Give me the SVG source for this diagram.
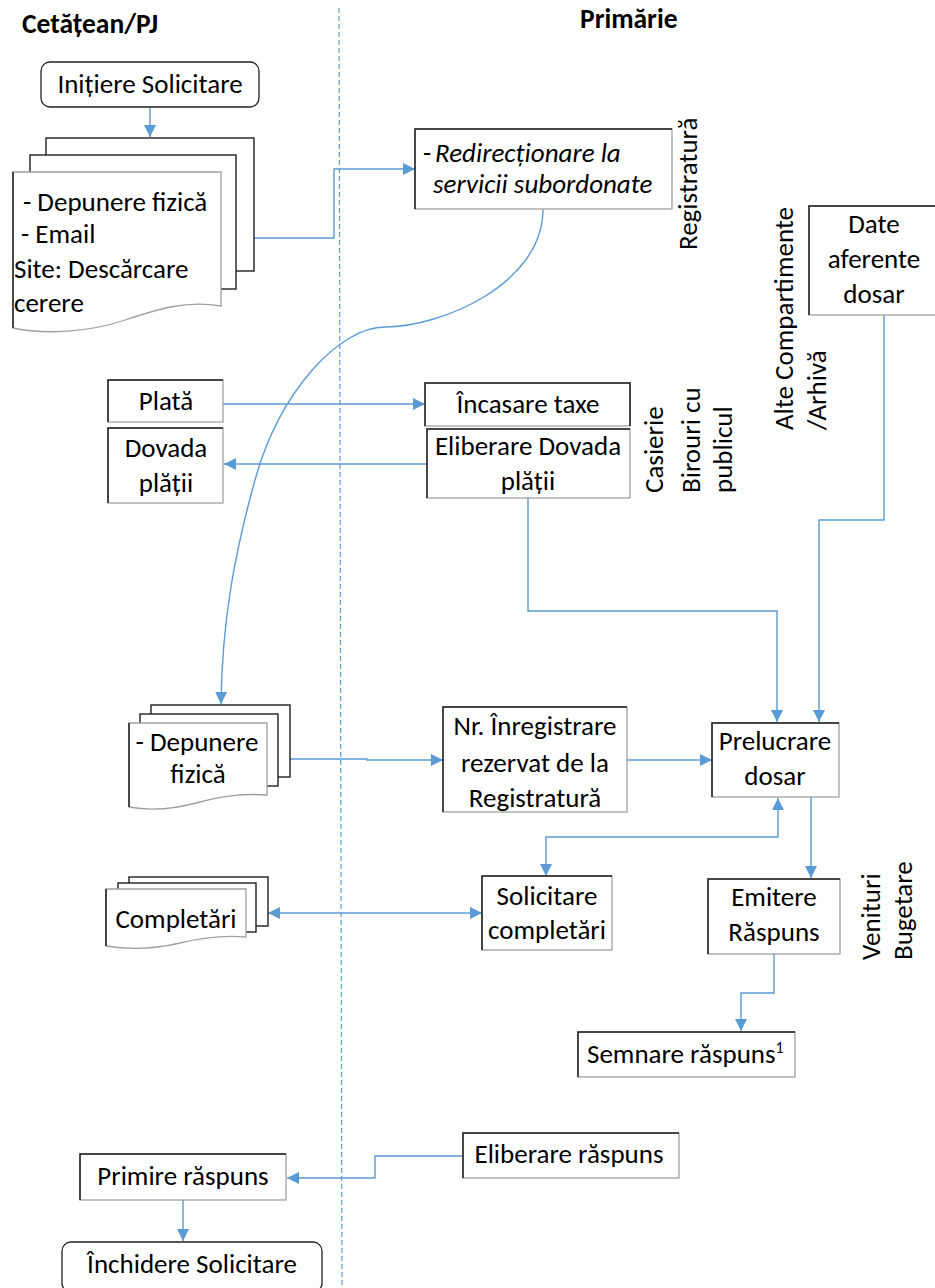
<svg xmlns="http://www.w3.org/2000/svg" width="935" height="1288" viewBox="0 0 935 1288">
<style>
text{font-family:Carlito,Lato,"Liberation Sans",sans-serif;font-size:27px;fill:#000}
.h{font-weight:bold;font-size:27.5px}
.c{text-anchor:middle}
.it{font-style:italic}
.bx{fill:#fff;stroke:#9a9a9a;stroke-width:1.2}
.tl{fill:none;stroke:#1e1e1e;stroke-width:1.5}
.rr{fill:#fff;stroke:#222;stroke-width:1.3}
.pg{fill:#fff;stroke:#1e1e1e;stroke-width:1.4}
.fp{fill:#fff;stroke:#a0a0a0;stroke-width:1.3}
.cn{fill:none;stroke:#5b9bd5;stroke-width:1.4}
.lane{fill:none;stroke:#5b9bd5;stroke-width:1.2;stroke-dasharray:5 3}
</style>
<defs>
<marker id="ah" viewBox="0 0 10 10" refX="10" refY="5" markerWidth="12" markerHeight="12" markerUnits="userSpaceOnUse" orient="auto-start-reverse">
<path d="M0,0 L10,5 L0,10 z" fill="#5b9bd5"/>
</marker>
</defs>
<rect width="935" height="1288" fill="#fff"/>
<g id="lanes">
<line class="lane" x1="339" y1="8" x2="342" y2="1288"/>
<text class="h" x="22" y="33">Cetățean/PJ</text>
<text class="h" x="580" y="28">Primărie</text>
<text transform="translate(697,250) rotate(-90)">Registratură</text>
<text transform="translate(663,493) rotate(-90)">Casierie</text>
<text transform="translate(700,493) rotate(-90)">Birouri cu</text>
<text transform="translate(732,493) rotate(-90)">publicul</text>
<text transform="translate(793,430) rotate(-90)">Alte Compartimente</text>
<text transform="translate(826,430) rotate(-90)">/Arhivă</text>
<text transform="translate(880,960) rotate(-90)">Venituri</text>
<text transform="translate(912,960) rotate(-90)">Bugetare</text>
</g>
<g id="connectors">
<path class="cn" d="M150,107 V137" marker-end="url(#ah)"/>
<path class="cn" d="M254,238 H334 V169 H415" marker-end="url(#ah)"/>
<path class="cn" d="M543,209 C543,285 440,327 385,327 C340,327 280,390 255,480 C235,552 222,620 221,704" marker-end="url(#ah)"/>
<path class="cn" d="M223,404 H425" marker-end="url(#ah)"/>
<path class="cn" d="M427,464 H224" marker-end="url(#ah)"/>
<path class="cn" d="M528,498 V611 H777 V722" marker-end="url(#ah)"/>
<path class="cn" d="M884,315 V520 H819 V722" marker-end="url(#ah)"/>
<path class="cn" d="M290,759 H367 V760 H443" marker-end="url(#ah)"/>
<path class="cn" d="M627,760 H712" marker-end="url(#ah)"/>
<path class="cn" d="M546,876 V837 H778 V798" marker-start="url(#ah)" marker-end="url(#ah)"/>
<path class="cn" d="M811,797 V878" marker-end="url(#ah)"/>
<path class="cn" d="M774,954 V993 H741 V1031" marker-end="url(#ah)"/>
<path class="cn" d="M268,913 H482" marker-start="url(#ah)" marker-end="url(#ah)"/>
<path class="cn" d="M463,1156 H375 V1178 H287" marker-end="url(#ah)"/>
<path class="cn" d="M183,1200 V1241" marker-end="url(#ah)"/>
</g>
<g id="n-initiere">
<rect class="rr" x="41" y="62" width="218" height="45" rx="9"/>
<text class="c" x="150" y="93">Inițiere Solicitare</text>
</g>
<g id="n-depunere1">
<rect class="pg" x="46" y="138" width="208" height="133"/>
<rect class="pg" x="30" y="155" width="206" height="134"/>
<path class="fp" d="M13,172 H221 V306 C185,300 155,310 125,320 C90,332 45,335 13,328 Z"/>
<path class="tl" d="M13,328 V172"/>
<text x="23" y="211">- Depunere fizică</text>
<text x="21" y="243">- Email</text>
<text x="14" y="278">Site: Descărcare</text>
<text x="14" y="312">cerere</text>
</g>
<g id="n-redirectionare">
<rect class="bx" x="415" y="129" width="257" height="80"/>
<path class="tl" d="M415,209 V129 H672"/>
<text x="423" y="162">-<tspan class="it" x="435">Redirecționare la</tspan></text>
<text class="it" x="433" y="193">servicii subordonate</text>
</g>
<g id="n-plata">
<rect class="bx" x="108" y="380" width="115" height="42"/>
<path class="tl" d="M108,422 V380 H223"/>
<text class="c" x="166" y="410">Plată</text>
</g>
<g id="n-dovada">
<rect class="bx" x="108" y="428" width="115" height="75"/>
<path class="tl" d="M108,503 V428 H223"/>
<text class="c" x="166" y="457">Dovada</text>
<text class="c" x="166" y="492">plății</text>
</g>
<g id="n-incasare">
<rect class="bx" x="425" y="383" width="205" height="43"/>
<path class="tl" d="M425,426 V383 H630 V426"/>
<text class="c" x="528" y="413">Încasare taxe</text>
</g>
<g id="n-eliberare-dovada">
<rect class="bx" x="427" y="429" width="203" height="69"/>
<path class="tl" d="M427,498 V429 H630"/>
<text class="c" x="528" y="455">Eliberare Dovada</text>
<text class="c" x="528" y="490">plății</text>
</g>
<g id="n-date">
<rect class="bx" x="809" y="206" width="131" height="109"/>
<path class="tl" d="M809,315 V206 H935"/>
<text class="c" x="874" y="233">Date</text>
<text class="c" x="874" y="268">aferente</text>
<text class="c" x="874" y="303">dosar</text>
</g>
<g id="n-depunere2">
<rect class="pg" x="151" y="705" width="139" height="72"/>
<rect class="pg" x="140" y="714" width="138" height="72"/>
<path class="fp" d="M129,723 H267 V795 C240,793 220,797 200,802 C175,809 150,811 129,807 Z"/>
<path class="tl" d="M129,807 V723"/>
<text class="c" x="197" y="751">- Depunere</text>
<text class="c" x="198" y="783">fizică</text>
</g>
<g id="n-nr">
<rect class="bx" x="443" y="707" width="184" height="105"/>
<path class="tl" d="M443,812 V707 H627"/>
<text class="c" x="535" y="735">Nr. Înregistrare</text>
<text class="c" x="535" y="772">rezervat de la</text>
<text class="c" x="535" y="807">Registratură</text>
</g>
<g id="n-prelucrare">
<rect class="bx" x="712" y="723" width="127" height="74"/>
<path class="tl" d="M712,797 V723 H839"/>
<text class="c" x="775" y="750">Prelucrare</text>
<text class="c" x="775" y="785">dosar</text>
</g>
<g id="n-completari">
<rect class="pg" x="129" y="877" width="139" height="49"/>
<rect class="pg" x="118" y="883" width="138" height="49"/>
<path class="fp" d="M106,889 H246 V937 C222,935 200,938 180,943 C155,949 130,950 106,946 Z"/>
<path class="tl" d="M106,946 V889"/>
<text class="c" x="176" y="928">Completări</text>
</g>
<g id="n-solicitare">
<rect class="bx" x="482" y="876" width="130" height="74"/>
<path class="tl" d="M482,950 V876 H612"/>
<text class="c" x="547" y="905">Solicitare</text>
<text class="c" x="547" y="939">completări</text>
</g>
<g id="n-emitere">
<rect class="bx" x="708" y="879" width="132" height="75"/>
<path class="tl" d="M708,954 V879 H840"/>
<text class="c" x="774" y="906">Emitere</text>
<text class="c" x="774" y="941">Răspuns</text>
</g>
<g id="n-semnare">
<rect class="bx" x="578" y="1032" width="217" height="45"/>
<path class="tl" d="M578,1077 V1032 H795"/>
<text x="587" y="1063">Semnare răspuns<tspan font-size="16" dy="-10">1</tspan></text>
</g>
<g id="n-eliberare-raspuns">
<rect class="bx" x="463" y="1133" width="216" height="45"/>
<path class="tl" d="M463,1178 V1133 H679"/>
<text class="c" x="569" y="1163">Eliberare răspuns</text>
</g>
<g id="n-primire">
<rect class="bx" x="80" y="1154" width="206" height="46"/>
<path class="tl" d="M80,1200 V1154 H286"/>
<text class="c" x="183" y="1185">Primire răspuns</text>
</g>
<g id="n-inchidere">
<rect class="rr" x="62" y="1242" width="260" height="50" rx="9"/>
<text class="c" x="192" y="1273">Închidere Solicitare</text>
</g>
</svg>
